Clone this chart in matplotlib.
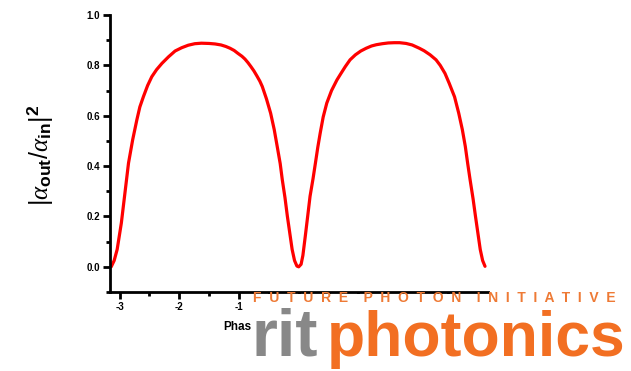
import matplotlib
matplotlib.use("Agg")
import matplotlib.pyplot as plt
from matplotlib.patches import Rectangle
from matplotlib.ticker import MultipleLocator
from matplotlib.transforms import Bbox

plt.rcParams["font.family"] = ["Liberation Sans", "DejaVu Sans"]
plt.rcParams["mathtext.fontset"] = "custom"
plt.rcParams["mathtext.rm"] = "Liberation Sans"
plt.rcParams["mathtext.it"] = "Liberation Serif:italic"
plt.rcParams["mathtext.bf"] = "Liberation Sans:bold"

# values
phase = [-3.14, -3.09, -3.04, -2.97, -2.91, -2.85, -2.78, -2.71, -2.66, -2.60,
         -2.53, -2.46, -2.38, -2.29, -2.18, -2.07, -1.96, -1.85, -1.74, -1.63,
         -1.50, -1.40, -1.30, -1.22, -1.15, -1.08, -1.02, -0.95, -0.90, -0.85,
         -0.80, -0.75, -0.70, -0.65, -0.61, -0.54, -0.47, -0.41, -0.36, -0.31,
         -0.275, -0.23, -0.19, -0.15, -0.11, -0.07, -0.03, 0.0, 0.04, 0.07,
         0.11, 0.15, 0.19, 0.24, 0.28, 0.32, 0.36, 0.41, 0.47, 0.55,
         0.64, 0.70, 0.78, 0.86, 0.95, 1.04, 1.13, 1.22, 1.30, 1.40,
         1.50, 1.60, 1.69, 1.80, 1.90, 2.02, 2.10, 2.20, 2.30, 2.37,
         2.45, 2.52, 2.61, 2.68, 2.74, 2.79, 2.83, 2.87, 2.92, 2.96,
         3.00, 3.04, 3.08, 3.12]
transmission = [0.0, 0.025, 0.069, 0.174, 0.293, 0.412, 0.505, 0.584, 0.635, 0.676,
                0.720, 0.755, 0.783, 0.808, 0.834, 0.857, 0.870, 0.880, 0.886, 0.888,
                0.887, 0.885, 0.881, 0.875, 0.868, 0.859, 0.848, 0.836, 0.825, 0.811,
                0.795, 0.778, 0.758, 0.737, 0.716, 0.667, 0.610, 0.545, 0.478, 0.410,
                0.346, 0.275, 0.201, 0.135, 0.069, 0.025, 0.003, 0.0, 0.010, 0.045,
                0.121, 0.200, 0.280, 0.350, 0.412, 0.475, 0.531, 0.595, 0.650, 0.700,
                0.742, 0.765, 0.795, 0.822, 0.842, 0.857, 0.868, 0.877, 0.882, 0.886,
                0.889, 0.890, 0.890, 0.887, 0.881, 0.868, 0.858, 0.842, 0.822, 0.800,
                0.768, 0.729, 0.675, 0.610, 0.545, 0.478, 0.410, 0.346, 0.270, 0.201,
                0.135, 0.069, 0.025, 0.002]

ylabel = r"$|\alpha_{\mathbf{out}}/\alpha_{\mathbf{in}}|^{\mathbf{2}}$"

fig = plt.figure(figsize=(6.31, 3.71), dpi=100)
ax = fig.add_axes([110 / 631, 79 / 371, 378 / 631, 277 / 371])

ax.plot(phase, transmission, color="red", linewidth=2.3, solid_capstyle="round",
        solid_joinstyle="round")

ax.set_xlim(-3.16, 3.17)
ax.set_ylim(-0.1, 1.0)
ax.xaxis.set_major_locator(MultipleLocator(1))
ax.xaxis.set_minor_locator(MultipleLocator(0.5))
ax.yaxis.set_major_locator(MultipleLocator(0.2))
ax.yaxis.set_minor_locator(MultipleLocator(0.1))
ax.yaxis.set_major_formatter(plt.FuncFormatter(lambda v, p: f"{v:.1f}"))
# labels 0..3 sit under the logo in the reference
ax.xaxis.set_major_formatter(plt.FuncFormatter(lambda v, p: f"{v:.0f}" if v < -0.5 else ""))

for s in ["top", "right"]:
    ax.spines[s].set_visible(False)
for s in ["left", "bottom"]:
    ax.spines[s].set_linewidth(2)
ax.tick_params(which="major", direction="out", length=5, width=2, labelsize=7, pad=2)
ax.tick_params(which="minor", direction="out", length=3, width=2)
for lab in ax.get_xticklabels() + ax.get_yticklabels():
    lab.set_fontweight("bold")

fig.text(40 / 631, 1 - 155 / 371, ylabel, rotation=90, fontsize=18,
         ha="center", va="center")
xl = fig.text(223 / 631, 1 - 327 / 371, "Phase", fontsize=8.5, fontweight="bold",
              ha="left", va="center")
xl.set_clip_box(Bbox.from_extents(0, 0, 251, 371))

# logo overlay in the lower right corner
fig.patches.append(Rectangle((251 / 631, 0), 380 / 631, 77 / 371,
                             transform=fig.transFigure, facecolor="white",
                             edgecolor="none", zorder=5))
orange = "#f26f22"
fig.text(253 / 631, 1 - 298 / 371,
         "F  U  T  U  R  E    P  H  O  T  O  N    I  N  I  T  I  A  T  I  V  E",
         fontsize=10, fontweight="bold", color="#ee7a35", ha="left", va="center",
         zorder=6)
fig.text(252 / 631, 15 / 371, "rit", fontsize=48, fontweight="bold",
         color="#888888", ha="left", va="baseline", zorder=6)
fig.text(327 / 631, 15 / 371, "photonics", fontsize=45, fontweight="bold",
         color=orange, ha="left", va="baseline", zorder=6)

fig.savefig("out.png", dpi=100)
